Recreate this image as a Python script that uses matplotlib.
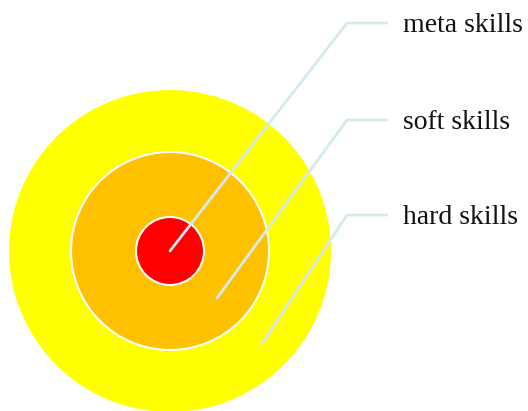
import numpy as np
import matplotlib
matplotlib.use("Agg")
import matplotlib.pyplot as plt
from matplotlib.patches import Circle

# rings from inside to outside
labels = ["meta skills", "soft skills", "hard skills"]
inner_r = [0, 34, 99]
outer_r = [34, 99, 162]
colors = ["#ff0000", "#ffc000", "#ffff00"]
label_y = [23, 120, 215]

cx, cy = 170, 251
line_color = "#d5eaee"

fig = plt.figure(figsize=(5.28, 4.11), dpi=100)
ax = fig.add_axes([0, 0, 1, 1])
ax.set_xlim(0, 528)
ax.set_ylim(411, 0)
ax.set_aspect("equal")
ax.axis("off")

# outermost first so the smaller discs sit on top
for i in reversed(range(len(labels))):
    ax.add_patch(Circle((cx, cy), outer_r[i], facecolor=colors[i],
                        edgecolor="white", linewidth=1.5, zorder=1))

ang = np.deg2rad(45)
for i, lab in enumerate(labels):
    r0 = 0 if inner_r[i] == 0 else (inner_r[i] + outer_r[i]) / 2
    x0 = cx + r0 * np.cos(ang)
    y0 = cy + r0 * np.sin(ang)
    ax.plot([x0, 347, 387], [y0, label_y[i], label_y[i]], color=line_color,
            linewidth=2, solid_capstyle="round", zorder=3)
    ax.text(403, label_y[i] + 2, lab, fontsize=20, family="Liberation Serif",
            ha="left", va="center", color="#111111", zorder=4)

fig.savefig("out.png", dpi=100)
